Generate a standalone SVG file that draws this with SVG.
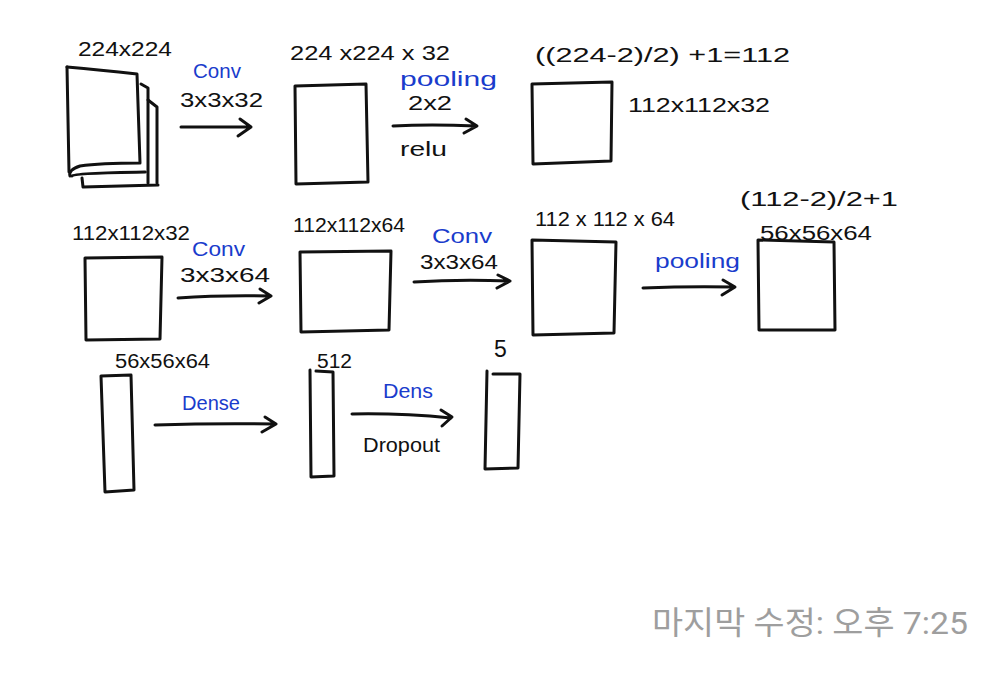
<svg xmlns="http://www.w3.org/2000/svg" width="1000" height="674" viewBox="0 0 1000 674">
<style>
.s{fill:none;stroke:#111;stroke-width:3;stroke-linecap:round;stroke-linejoin:round}
.t{font-family:"Liberation Sans","Noto Sans",sans-serif;fill:#111;font-size:20px}
.b{font-family:"Liberation Sans","Noto Sans",sans-serif;fill:#1a3ccc;font-size:20px}
.f{font-family:Roboto,"Noto Sans CJK KR",sans-serif;fill:#9e9e9e;font-size:32px}
</style>
<rect width="1000" height="674" fill="#fff"/>
<g id="input">
<path class="s" d="M67,67 Q100,70 137,74 L140,163 Q100,163 80,166 Q68,170 70,176"/>
<path class="s" d="M67,67 L69,172"/>
<path class="s" d="M141,84 L148,88 L148,183 M72,176 Q74,173 145,172"/>
<path class="s" d="M148,100 L157,107 L157,183 M82,178 L83,187 L158,185"/>
<text class="t" x="78" y="56" textLength="94" lengthAdjust="spacingAndGlyphs">224x224</text>
</g>
<g id="conv1">
<path class="s" d="M295,86 L366,84 L368,182 L296,184 Z"/>
<text class="t" x="290" y="60" textLength="160" lengthAdjust="spacingAndGlyphs">224 x224 x 32</text>
</g>
<g id="pool1">
<path class="s" d="M532,84 L612,82 L611,161 L533,164 Z"/>
<text class="t" x="535" y="62" textLength="255" lengthAdjust="spacingAndGlyphs">((224-2)/2) +1=112</text>
<text class="t" x="628" y="112" textLength="142" lengthAdjust="spacingAndGlyphs">112x112x32</text>
</g>
<g id="conv2in">
<path class="s" d="M85,258 L162,257 L160,339 L86,340 Z"/>
<text class="t" x="72" y="240" textLength="118" lengthAdjust="spacingAndGlyphs">112x112x32</text>
</g>
<g id="conv2">
<path class="s" d="M300,252 L391,251 L389,330 L301,332 Z"/>
<text class="t" x="293" y="232" textLength="112" lengthAdjust="spacingAndGlyphs">112x112x64</text>
</g>
<g id="conv3">
<path class="s" d="M532,240 L616,242 L614,333 L533,335 Z"/>
<text class="t" x="535" y="226" textLength="140" lengthAdjust="spacingAndGlyphs">112 x 112 x 64</text>
</g>
<g id="pool2">
<path class="s" d="M758,240 L834,242 L835,330 L759,330 Z"/>
<text class="t" x="740" y="206" textLength="158" lengthAdjust="spacingAndGlyphs">(112-2)/2+1</text>
<text class="t" x="760" y="240" textLength="112" lengthAdjust="spacingAndGlyphs">56x56x64</text>
</g>
<g id="flat">
<path class="s" d="M101,376 L131,375 L134,490 L105,492 Z"/>
<text class="t" x="115" y="368" textLength="95" lengthAdjust="spacingAndGlyphs">56x56x64</text>
</g>
<g id="dense1">
<path class="s" d="M310,370 L311,477 L334,476 L333,372 L316,371"/>
<text class="t" x="317" y="368" textLength="35" lengthAdjust="spacingAndGlyphs">512</text>
</g>
<g id="dense2">
<path class="s" d="M487,371 L485,469 L518,468 L520,374 L493,374"/>
<text class="t" x="494" y="357" style="font-size:23px">5</text>
</g>
<g id="connectors">
<path class="s" d="M181,127 L251,127 M240,119 L251,127 L238,136"/>
<text class="b" x="193" y="78" textLength="48" lengthAdjust="spacingAndGlyphs">Conv</text>
<text class="t" x="180" y="107" textLength="83" lengthAdjust="spacingAndGlyphs">3x3x32</text>
<path class="s" d="M393,126 Q430,124 476,126 M466,119 L477,126 L464,133"/>
<text class="b" x="400" y="86" textLength="97" lengthAdjust="spacingAndGlyphs">pooling</text>
<text class="t" x="408" y="110" textLength="44" lengthAdjust="spacingAndGlyphs">2x2</text>
<text class="t" x="400" y="156" textLength="47" lengthAdjust="spacingAndGlyphs">relu</text>
<path class="s" d="M178,298 Q220,295 270,296 M260,289 L271,296 L259,303"/>
<text class="b" x="192" y="256" textLength="53" lengthAdjust="spacingAndGlyphs">Conv</text>
<text class="t" x="180" y="282" textLength="90" lengthAdjust="spacingAndGlyphs">3x3x64</text>
<path class="s" d="M414,282 Q460,279 509,281 M498,275 L510,281 L497,288"/>
<text class="b" x="432" y="243" textLength="60" lengthAdjust="spacingAndGlyphs">Conv</text>
<text class="t" x="420" y="269" textLength="78" lengthAdjust="spacingAndGlyphs">3x3x64</text>
<path class="s" d="M643,288 Q690,286 734,287 M723,280 L735,287 L722,295"/>
<text class="b" x="655" y="268" textLength="85" lengthAdjust="spacingAndGlyphs">pooling</text>
<path class="s" d="M155,425 Q215,423 275,424 M265,417 L276,424 L262,432"/>
<text class="b" x="182" y="410" textLength="58" lengthAdjust="spacingAndGlyphs">Dense</text>
<path class="s" d="M352,414 Q400,413 451,418 M441,410 L452,417 L442,426"/>
<text class="b" x="383" y="398" textLength="50" lengthAdjust="spacingAndGlyphs">Dens</text>
<text class="t" x="363" y="452" textLength="77" lengthAdjust="spacingAndGlyphs">Dropout</text>
</g>
<text class="f" x="652" y="634" textLength="316" lengthAdjust="spacingAndGlyphs">마지막 수정: 오후 7:25</text>
</svg>
